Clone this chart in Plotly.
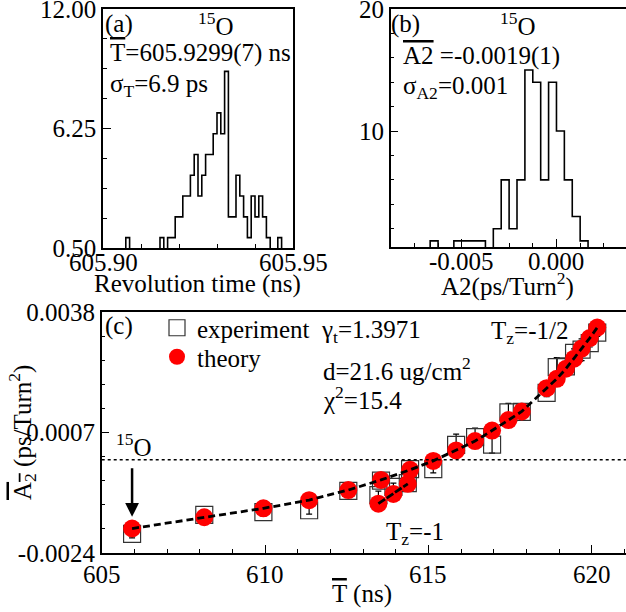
import numpy as np
import plotly.graph_objects as go

W, H = 626, 612
FONT = "Liberation Serif, Times New Roman, Times, serif"
FS = 25

# ---------------- data ----------------
# (a) revolution-time histogram of 15O, 50 bins between 605.90 and 605.95 ns
rev_counts = [0, 0, 0, 0, 0, 0, 1, 0, 0, 0,
              0, 0, 0, 0, 0, 1, 0, 1, 1, 2,
              2, 3, 3, 4, 5, 3, 4, 5, 5, 6,
              7, 6, 9, 2, 2, 4, 3, 2, 1, 3,
              2, 3, 2, 1, 0, 0, 1, 0, 0, 0]
rev_lo, rev_hi = 605.90, 605.95
rev_xticks = [605.90, 605.95]
rev_xlabels = ["605.90", "605.95"]
rev_yticks = [0.5, 6.25, 12.0]
rev_ylabels = ["0.50", "6.25", "12.00"]

# (b) A2 histogram of 15O, 30 bins between -0.00875 and 0.00375
a2_counts = [0, 0, 0, 0, 0, 1, 0, 0, 1, 1,
             1, 1, 0, 2, 6, 2, 6, 15, 14, 6,
             14, 10, 6, 3, 1, 0, 0, 0, 0, 0]
a2_lo, a2_hi = -0.00875, 0.00375
a2_xticks = [-0.005, 0.0]
a2_xlabels = ["-0.005", "0.000"]
a2_yticks = [10, 20]
a2_ylabels = ["10", "20"]

# (c) mean A2 versus mean revolution time
t_main = [605.93, 608.14, 609.95, 611.35, 612.55, 613.55, 614.44, 615.15,
          615.85, 616.43, 616.95, 617.45, 617.86, 618.62, 618.93, 619.21,
          619.46, 619.69, 619.94, 620.17]
theory_main = [-0.00177, -0.00148, -0.00125, -0.00104, -0.00078, -0.00052,
               -0.00026, -0.00003, 0.00024, 0.00048, 0.00075, 0.00102,
               0.00124, 0.00184, 0.00208, 0.00234, 0.00260, 0.00286,
               0.00313, 0.00340]
exp_main = [-0.00191, -0.00142, -0.00135, -0.00130, -0.00080, -0.00054,
            -0.00024, -0.00024, 0.00038, 0.00058, 0.00039, 0.00122,
            0.00123, 0.00172, 0.00238, 0.00240, 0.00275, 0.00283,
            0.00300, 0.00327]
err_main = [0.0001, 0.0001, 0.0001, 0.0001, 0.0001, 0.0001, 0.0001, 0.0001,
            0.00028, 0.00023, 0.00022, 0.00023, 0.00012, 0.0001, 0.00025,
            0.0001, 0.0001, 0.00028, 0.0001, 0.0001]
t_tz1 = [613.47, 613.93, 614.37]
theory_tz1 = [-0.00113, -0.00088, -0.00062]
exp_tz1 = [-0.00091, -0.00070, -0.00060]
err_tz1 = [0.0001, 0.0001, 0.0001]
c_xticks = [605, 610, 615, 620]
c_xlabels = ["605", "610", "615", "620"]
c_yticks = [-0.0024, 0.0007, 0.0038]
c_ylabels = ["-0.0024", "0.0007", "0.0038"]

# ---------------- helpers ----------------
def px(x):
    return x / W

def py(y):
    return 1 - y / H

OL = '<span style="text-decoration:overline">%s</span>'

fig = go.Figure()

# (a) histogram as step outline
rev_edges = np.linspace(rev_lo, rev_hi, len(rev_counts) + 1)
fig.add_trace(go.Scatter(x=rev_edges, y=list(rev_counts) + [0], mode="lines",
                         line=dict(color="black", width=1.6, shape="hv"),
                         xaxis="x", yaxis="y", showlegend=False, hoverinfo="skip"))

# (b) histogram as step outline
a2_edges = np.linspace(a2_lo, a2_hi, len(a2_counts) + 1)
fig.add_trace(go.Scatter(x=a2_edges, y=list(a2_counts) + [0], mode="lines",
                         line=dict(color="black", width=1.6, shape="hv"),
                         xaxis="x2", yaxis="y2", showlegend=False, hoverinfo="skip"))

# (c) experiment squares
sq = dict(symbol="square-open", size=17, color="#333333", line=dict(width=1.2))
fig.add_trace(go.Scatter(x=t_main, y=exp_main, mode="markers", marker=sq,
                         error_y=dict(type="data", array=err_main, color="black",
                                      thickness=1.2, width=3),
                         name="experiment", xaxis="x3", yaxis="y3",
                         showlegend=True, legend="legend"))
fig.add_trace(go.Scatter(x=t_tz1, y=exp_tz1, mode="markers", marker=sq,
                         error_y=dict(type="data", array=err_tz1, color="black",
                                      thickness=1.2, width=3),
                         xaxis="x3", yaxis="y3", showlegend=False))
# theory circles
circ = dict(symbol="circle", size=18, color="#ff0000", line=dict(width=0))
fig.add_trace(go.Scatter(x=t_main, y=theory_main, mode="markers", marker=circ,
                         name="theory", xaxis="x3", yaxis="y3",
                         showlegend=True, legend="legend2"))
fig.add_trace(go.Scatter(x=t_tz1, y=theory_tz1, mode="markers", marker=circ,
                         xaxis="x3", yaxis="y3", showlegend=False))
# dashed curves
fig.add_trace(go.Scatter(x=t_main, y=theory_main, mode="lines",
                         line=dict(color="black", width=2.8, dash="7px,4px"),
                         xaxis="x3", yaxis="y3", showlegend=False, hoverinfo="skip"))
fig.add_trace(go.Scatter(x=t_tz1, y=theory_tz1, mode="lines",
                         line=dict(color="black", width=2.8, dash="8px,2px"),
                         xaxis="x3", yaxis="y3", showlegend=False, hoverinfo="skip"))

# ---------------- axes ----------------
tickfont = dict(family=FONT, size=FS, color="black")

def axis_common():
    return dict(showline=True, linecolor="black", linewidth=1.5, ticks="inside",
                tickcolor="black", tickwidth=1, ticklen=8, tickfont=tickfont,
                showgrid=False, zeroline=False, fixedrange=True, automargin=False,
                ticklabeloverflow="allow")

def minor(t0, dt):
    return dict(tickmode="linear", tick0=t0, dtick=dt, ticks="inside",
                ticklen=4, tickcolor="black", showgrid=False)

xa = axis_common()
xa.update(domain=[px(103), px(293)], range=[rev_lo, rev_hi], anchor="y",
          tickmode="array", tickvals=rev_xticks, showticklabels=False,
          mirror=True, minor=minor(605.90, 0.01))
ya = axis_common()
ya.update(domain=[py(248), py(9)], range=[0.5, 12.0], anchor="x",
          tickmode="array", tickvals=rev_yticks, ticktext=rev_ylabels,
          mirror=True, minor=minor(0.5, 1.4375))

xb = axis_common()
xb.update(domain=[px(390.7), 1.0], range=[a2_lo, 0.00367], anchor="y2",
          tickmode="array", tickvals=a2_xticks, showticklabels=False,
          mirror=True, minor=minor(0.0, 0.00125))
yb = axis_common()
yb.update(domain=[py(247), py(9)], range=[0.5, 20.0], anchor="x2",
          tickmode="array", tickvals=a2_yticks, ticktext=a2_ylabels, mirror=False,
          minor=minor(0, 2))

xc = axis_common()
xc.update(domain=[px(101.7), 1.0], range=[605.0, 621.05], anchor="y3",
          tickmode="array", tickvals=c_xticks, showticklabels=False, mirror=True,
          minor=minor(605, 1))
yc = axis_common()
yc.update(domain=[py(553), py(312)], range=[-0.0024, 0.0038], anchor="x3",
          tickmode="array", tickvals=c_yticks, ticktext=c_ylabels, mirror=False,
          minor=minor(-0.0024, 0.00062))

# ---------------- annotations ----------------
def txt(x, y, s, size=FS, xanchor="left", yanchor="middle", angle=0):
    return dict(x=px(x), y=py(y), xref="paper", yref="paper", text=s, showarrow=False,
                xanchor=xanchor, yanchor=yanchor, textangle=angle,
                font=dict(family=FONT, size=size, color="black"))

def xlab(vals, labels, xref, ypix):
    return [dict(x=v, y=py(ypix), xref=xref, yref="paper", text=l, showarrow=False,
                 xanchor="center", yanchor="middle",
                 font=dict(family=FONT, size=FS, color="black"))
            for v, l in zip(vals, labels)]

ann = [
    txt(103, 24, "(a)"),
    txt(196, 24, "<sup>15</sup>O"),
    txt(108, 53, OL % "T" + "=605.9299(7) ns"),
    txt(108, 86, "σ<sub>T</sub>=6.9 ps"),
    txt(389, 24, "(b)"),
    txt(498, 24, "<sup>15</sup>O"),
    txt(401, 56, OL % "A2" + " =-0.0019(1)"),
    txt(401, 88, "σ<sub>A2</sub>=0.001"),
    txt(197, 284, "Revolution time (ns)", xanchor="center"),
    txt(507, 284, "A2(ps/Turn<sup>2</sup>)", xanchor="center"),
    txt(103, 326, "(c)"),
    txt(319, 331, "γ<sub>t</sub>=1.3971"),
    txt(321, 369, "d=21.6 ug/cm<sup>2</sup>"),
    txt(321, 398, "χ<sup>2</sup>=15.4"),
    txt(489, 332, "T<sub>z</sub>=-1/2"),
    txt(384, 533, "T<sub>z</sub>=-1"),
    txt(114, 445, "<sup>15</sup>O"),
    txt(362, 594, OL % "T" + " (ns)", xanchor="center"),
    txt(22, 433, OL % "A<sub>2</sub>" + " (ps/Turn<sup>2</sup>)", xanchor="center", angle=-90),
    dict(x=t_main[0], y=-0.00147, xref="x3", yref="y3", ax=0, ay=-50,
         showarrow=True, arrowhead=2, arrowsize=1.1, arrowwidth=2.5, arrowcolor="black",
         text=""),
]
ann += xlab(rev_xticks, rev_xlabels, "x", 262)
ann += xlab(a2_xticks, a2_xlabels, "x2", 261)
ann += xlab(c_xticks, c_xlabels, "x3", 574)

shapes = [
    dict(type="line", xref="x3 domain", yref="y3", x0=0, x1=1, y0=0, y1=0,
         line=dict(color="black", width=1.5, dash="dot")),
]

leg = dict(xanchor="left", yanchor="middle", bgcolor="rgba(0,0,0,0)",
           font=dict(family=FONT, size=FS, color="black"),
           itemsizing="trace", borderwidth=0)

fig.update_layout(
    template="none",
    width=W, height=H, margin=dict(l=0, r=0, t=0, b=0, autoexpand=False),
    paper_bgcolor="white", plot_bgcolor="white",
    xaxis=xa, yaxis=ya, xaxis2=xb, yaxis2=yb, xaxis3=xc, yaxis3=yc,
    annotations=ann, shapes=shapes,
    legend=dict(leg, x=px(157), y=py(328)),
    legend2=dict(leg, x=px(157), y=py(357)),
    font=dict(family=FONT, size=FS, color="black"),
)

fig.write_html("out.html", config={"displayModeBar": False},
               post_script="document.body.style.margin='0';document.body.style.overflow='hidden';")
